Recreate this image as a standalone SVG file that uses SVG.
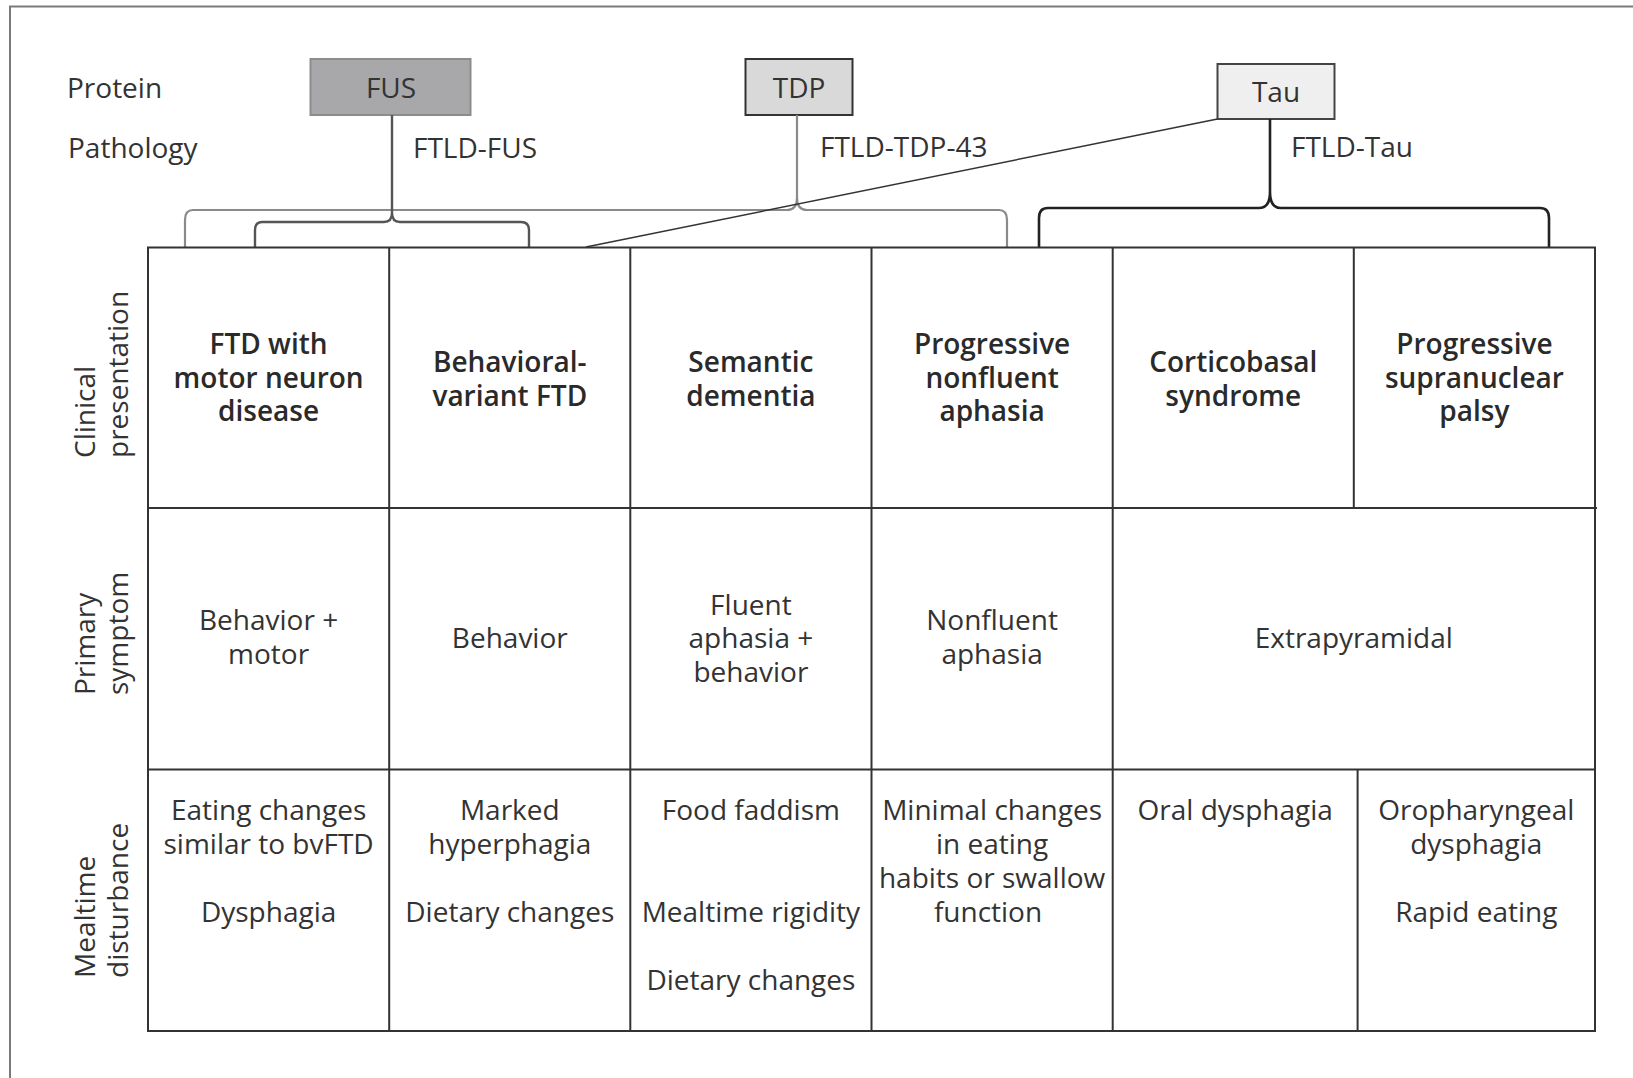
<svg xmlns="http://www.w3.org/2000/svg" width="1633" height="1078" viewBox="0 0 1633 1078">
  <style>
    .t { font-family: "Open Sans", "Liberation Sans", sans-serif; font-size: 28px; fill: #333; }
    .b { font-weight: 600; fill: #2a2a2a; }
    .m { text-anchor: middle; }
    .grid { stroke: #333; stroke-width: 2; fill: none; }
    .brace { fill: none; stroke-linejoin: round; stroke-linecap: butt; }
  </style>

  <rect width="1633" height="1078" fill="#fff"/>
  <!-- outer frame (only the left and top edges fall inside the canvas) -->
  <rect x="10" y="6.5" width="1700" height="1200" fill="none" stroke="#7a7a7a" stroke-width="2"/>

  <!-- row headings on the left, two lines each, running upward -->
  <g id="row-labels" class="t">
    <text transform="translate(95 458) rotate(-90)">Clinical<tspan x="0" dy="33">presentation</tspan></text>
    <text transform="translate(95 695) rotate(-90)">Primary<tspan x="0" dy="33">symptom</tspan></text>
    <text transform="translate(95 978) rotate(-90)">Mealtime<tspan x="0" dy="33">disturbance</tspan></text>
  </g>

  <g id="level-labels" class="t">
    <text x="67" y="97.7">Protein</text>
    <text x="68" y="158">Pathology</text>
  </g>

  <!-- protein boxes -->
  <g id="fus">
    <rect x="310.5" y="59" width="160" height="56" fill="#a8a8aa" stroke="#8c8c8c" stroke-width="2"/>
    <text class="t m" x="391" y="97.7">FUS</text>
  </g>
  <g id="tdp">
    <rect x="745.5" y="59" width="107" height="56" fill="#d9d9d9" stroke="#333" stroke-width="2"/>
    <text class="t m" x="799" y="97.7">TDP</text>
  </g>
  <g id="tau">
    <rect x="1217.5" y="64" width="117" height="55" fill="#efefef" stroke="#444" stroke-width="2"/>
    <text class="t m" x="1276" y="101.7">Tau</text>
  </g>

  <!-- pathology labels -->
  <g id="pathology-labels" class="t">
    <text x="413" y="158">FTLD-FUS</text>
    <text x="820" y="157">FTLD-TDP-43</text>
    <text x="1291" y="157">FTLD-Tau</text>
  </g>

  <!-- stems, braces and the Tau diagonal -->
  <g id="connectors">
    <!-- TDP brace (light gray) -->
    <path class="brace" stroke="#8a8a8a" stroke-width="2.2"
          d="M797,115 L797,198 Q797,210 787,210 L193,210 Q185,210 185,220 L185,247 M797,198 Q797,210 807,210 L999,210 Q1007,210 1007,220 L1007,247"/>
    <!-- FUS brace -->
    <path class="brace" stroke="#555" stroke-width="2.4"
          d="M392,115 L392,213 Q392,222 384,222 L262,222 Q255,222 255,230 L255,247 M392,213 Q392,222 400,222 L521,222 Q529,222 529,230 L529,247"/>
    <!-- Tau brace -->
    <path class="brace" stroke="#222" stroke-width="2.6"
          d="M1270,119 L1270,192 Q1270,208 1259,208 L1048,208 Q1039,208 1039,218 L1039,247 M1270,192 Q1270,208 1281,208 L1540,208 Q1549,208 1549,218 L1549,247"/>
    <!-- diagonal from Tau to behavioral-variant FTD -->
    <line x1="1217.5" y1="119" x2="586" y2="247" stroke="#333" stroke-width="1.5"/>
  </g>

  <!-- table grid -->
  <g id="table" class="grid">
    <rect x="148" y="247.5" width="1447" height="783.5"/>
    <line x1="148" y1="508" x2="1597" y2="508"/>
    <line x1="148" y1="769.5" x2="1595" y2="769.5"/>
    <line x1="389.2" y1="247.5" x2="389.2" y2="1031"/>
    <line x1="630.3" y1="247.5" x2="630.3" y2="1031"/>
    <line x1="871.5" y1="247.5" x2="871.5" y2="1031"/>
    <line x1="1112.7" y1="247.5" x2="1112.7" y2="1031"/>
    <line x1="1353.8" y1="247.5" x2="1353.8" y2="508"/>
    <line x1="1357.6" y1="769.5" x2="1357.6" y2="1031"/>
  </g>

  <!-- clinical presentation row -->
  <g id="cp-ftd-mnd" class="t b m">
    <text x="268.6" y="354">FTD with<tspan x="268.6" dy="33.6">motor neuron</tspan><tspan x="268.6" dy="33.7">disease</tspan></text>
  </g>
  <g id="cp-bvftd" class="t b m">
    <text x="509.8" y="372">Behavioral-<tspan x="509.8" dy="33.7">variant FTD</tspan></text>
  </g>
  <g id="cp-sd" class="t b m">
    <text x="750.9" y="372">Semantic<tspan x="750.9" dy="33.7">dementia</tspan></text>
  </g>
  <g id="cp-pnfa" class="t b m">
    <text x="992.1" y="354">Progressive<tspan x="992.1" dy="33.6">nonfluent</tspan><tspan x="992.1" dy="33.7">aphasia</tspan></text>
  </g>
  <g id="cp-cbs" class="t b m">
    <text x="1233.3" y="372">Corticobasal<tspan x="1233.3" dy="33.7">syndrome</tspan></text>
  </g>
  <g id="cp-psp" class="t b m">
    <text x="1474.4" y="354">Progressive<tspan x="1474.4" dy="33.6">supranuclear</tspan><tspan x="1474.4" dy="33.7">palsy</tspan></text>
  </g>

  <!-- primary symptom row -->
  <g id="ps-ftd-mnd" class="t m">
    <text x="268.6" y="630">Behavior +<tspan x="268.6" dy="33.5">motor</tspan></text>
  </g>
  <g id="ps-bvftd" class="t m">
    <text x="509.8" y="648.3">Behavior</text>
  </g>
  <g id="ps-sd" class="t m">
    <text x="750.9" y="614.7">Fluent<tspan x="750.9" dy="33.5">aphasia +</tspan><tspan x="750.9" dy="33.5">behavior</tspan></text>
  </g>
  <g id="ps-pnfa" class="t m">
    <text x="992.1" y="630">Nonfluent<tspan x="992.1" dy="33.5">aphasia</tspan></text>
  </g>
  <g id="ps-tau" class="t m">
    <text x="1353.8" y="648.3">Extrapyramidal</text>
  </g>

  <!-- mealtime disturbance row -->
  <g id="md-ftd-mnd" class="t m">
    <text x="268.6" y="820">Eating changes<tspan x="268.6" dy="34">similar to bvFTD</tspan><tspan x="268.6" dy="68">Dysphagia</tspan></text>
  </g>
  <g id="md-bvftd" class="t m">
    <text x="509.8" y="820">Marked<tspan x="509.8" dy="34">hyperphagia</tspan><tspan x="509.8" dy="68">Dietary changes</tspan></text>
  </g>
  <g id="md-sd" class="t m">
    <text x="750.9" y="820">Food faddism<tspan x="750.9" dy="102">Mealtime rigidity</tspan><tspan x="750.9" dy="68">Dietary changes</tspan></text>
  </g>
  <g id="md-pnfa" class="t m">
    <text x="992.1" y="820">Minimal changes<tspan x="992.1" dy="34">in eating</tspan><tspan x="992.1" dy="34">habits or swallow</tspan><tspan x="988" dy="34">function</tspan></text>
  </g>
  <g id="md-cbs" class="t m">
    <text x="1235.2" y="820">Oral dysphagia</text>
  </g>
  <g id="md-psp" class="t m">
    <text x="1476.3" y="820">Oropharyngeal<tspan x="1476.3" dy="34">dysphagia</tspan><tspan x="1476.3" dy="68">Rapid eating</tspan></text>
  </g>
</svg>
